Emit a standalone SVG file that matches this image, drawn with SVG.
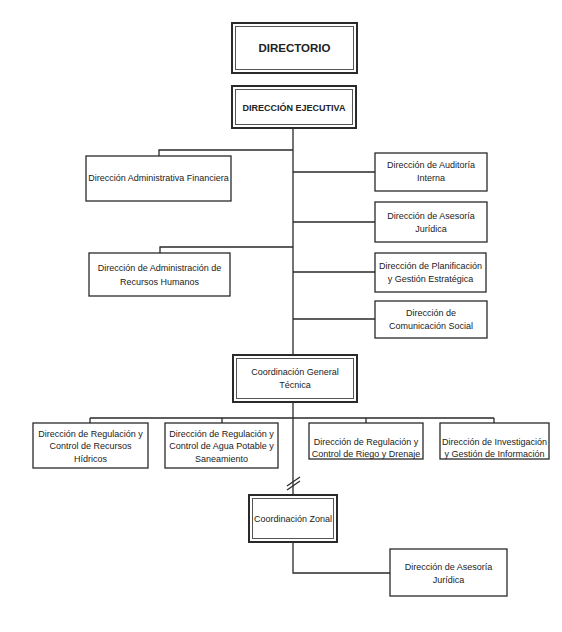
<svg xmlns="http://www.w3.org/2000/svg" width="562" height="632" viewBox="0 0 562 632">
<style>
.bx{fill:#fff;stroke:#2a2a2a;stroke-width:1.3}
.ob{fill:#fff;stroke:#2a2a2a;stroke-width:2}
.ib{fill:none;stroke:#555;stroke-width:1}
.ln{fill:none;stroke:#2a2a2a;stroke-width:1.3}
text{font-family:"Liberation Sans",Arial,sans-serif;font-size:9px;fill:#222;text-anchor:middle}
.b{font-weight:bold}
</style>
<rect width="562" height="632" fill="#fff"/>
<g id="connectors">
<path class="ln" d="M293,128V355M293,402V495"/>
<path class="ln" d="M293,150H159V156M293,247H160V253"/>
<path class="ln" d="M293,172H375M293,222H375M293,272H375M293,319H375"/>
<path class="ln" d="M90,418H494M90,418V423M222,418V423M366,418V423M494,418V423"/>
<path class="ln" d="M287,486L300,477M287,490L300,481"/>
<path class="ln" d="M293,542V573H390"/>
</g>
<g id="directorio">
<rect class="ob" x="232" y="23" width="125" height="50"/>
<rect class="ib" x="235.5" y="26.5" width="118" height="43"/>
<text class="b" x="294.5" y="52" style="font-size:11.5px">DIRECTORIO</text>
</g>
<g id="direccion-ejecutiva">
<rect class="ob" x="232" y="86" width="124" height="42"/>
<rect class="ib" x="235.5" y="89.5" width="117" height="35"/>
<text class="b" x="294" y="111">DIRECCIÓN EJECUTIVA</text>
</g>
<g id="adm-financiera">
<rect class="bx" x="86" y="156" width="145" height="45"/>
<text x="158.5" y="181">Dirección Administrativa Financiera</text>
</g>
<g id="rrhh">
<rect class="bx" x="89" y="253" width="141" height="43"/>
<text x="159.5" y="271">Dirección de Administración de</text>
<text x="159.5" y="285">Recursos Humanos</text>
</g>
<g id="auditoria">
<rect class="bx" x="375" y="153" width="112" height="38"/>
<text x="431" y="168">Dirección de Auditoría</text>
<text x="431" y="181">Interna</text>
</g>
<g id="asesoria">
<rect class="bx" x="375" y="202" width="112" height="40"/>
<text x="431" y="219">Dirección de Asesoría</text>
<text x="431" y="232">Jurídica</text>
</g>
<g id="planificacion">
<rect class="bx" x="375" y="253" width="111" height="39"/>
<text x="430.5" y="269">Dirección de Planificación</text>
<text x="430.5" y="282">y Gestión Estratégica</text>
</g>
<g id="comunicacion">
<rect class="bx" x="375" y="301" width="112" height="37"/>
<text x="431" y="316">Dirección de</text>
<text x="431" y="329">Comunicación Social</text>
</g>
<g id="coord-general">
<rect class="ob" x="233" y="355" width="124" height="47"/>
<rect class="ib" x="236.5" y="358.5" width="117" height="40"/>
<text x="295" y="375">Coordinación General</text>
<text x="295" y="388">Técnica</text>
</g>
<g id="recursos-hidricos">
<rect class="bx" x="33" y="423" width="115" height="45"/>
<text x="90.5" y="437">Dirección de Regulación y</text>
<text x="90.5" y="449">Control de Recursos</text>
<text x="90.5" y="462">Hídricos</text>
</g>
<g id="agua-potable">
<rect class="bx" x="165" y="423" width="113" height="45"/>
<text x="221.5" y="437">Dirección de Regulación y</text>
<text x="221.5" y="449">Control de Agua Potable y</text>
<text x="221.5" y="462">Saneamiento</text>
</g>
<g id="riego-drenaje">
<rect class="bx" x="309" y="423" width="114" height="36"/>
<text x="366" y="445">Dirección de Regulación y</text>
<text x="366" y="457">Control de Riego y Drenaje</text>
</g>
<g id="investigacion">
<rect class="bx" x="440" y="423" width="109" height="36"/>
<text x="494.5" y="445">Dirección de Investigación</text>
<text x="494.5" y="457">y Gestión de Información</text>
</g>
<g id="coord-zonal">
<rect class="ob" x="249" y="495" width="88" height="47"/>
<rect class="ib" x="252.5" y="498.5" width="81" height="40"/>
<text x="293" y="522">Coordinación Zonal</text>
</g>
<g id="asesoria-zonal">
<rect class="bx" x="390" y="549" width="117" height="47"/>
<text x="448.5" y="570">Dirección de Asesoría</text>
<text x="448.5" y="583">Jurídica</text>
</g>
</svg>
